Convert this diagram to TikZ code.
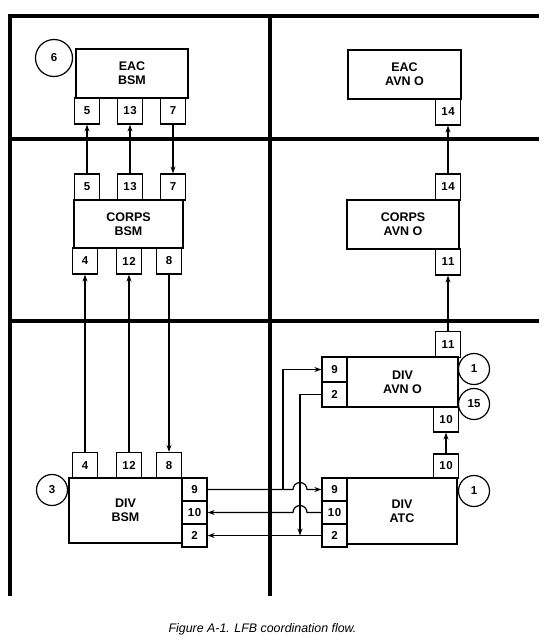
\documentclass[tikz,border=0pt]{standalone}
\usepackage{fontspec}
\setmainfont{Liberation Sans}
\usetikzlibrary{arrows.meta}
\tikzstyle{unit}=[draw, line width=1.2pt, inner sep=0pt, align=center, font=\bfseries\fontsize{12.5}{14}\selectfont]
\tikzstyle{port}=[draw, line width=1.2pt, inner sep=0pt, minimum width=25pt, minimum height=26pt, font=\bfseries\fontsize{11.5}{12}\selectfont\addfontfeature{LetterSpace=6}]
\tikzstyle{sideport}=[port, minimum height=23pt]
\tikzstyle{tag}=[circle, draw, line width=1.2pt, inner sep=0pt, minimum size=31pt, font=\bfseries\fontsize{11.5}{12}\selectfont]
\tikzstyle{grid}=[line width=3.5pt]
\tikzstyle{flow}=[line width=1.2pt, -{Stealth[length=7pt,width=5pt]}]

\begin{document}
\begin{tikzpicture}[x=1pt, y=-1pt]
\useasboundingbox (0,0) rectangle (550,643);

% frame
\draw[grid] (539,16) -- (10,16) -- (10,596);
\draw[grid] (10,139) -- (539,139);
\draw[grid] (10,321) -- (539,321);
\draw[grid] (270,16) -- (270,596);

% bsm side
\node[unit, minimum width=112pt, minimum height=49pt] (eacbsm) at (132,73.5) {EAC\\BSM};
\node[tag, minimum size=37pt] (t6) at (54,58) {6};
\foreach \n/\x in {5/87,13/130,7/173}
\node[port] (eb\n) at (\x,111) {\n};

\node[unit, minimum width=109pt, minimum height=48pt] (corpsbsm) at (128.5,224) {CORPS\\BSM};
\foreach \n/\x in {5/87,13/130,7/173}
\node[port] (cbt\n) at (\x,187) {\n};
\foreach \n/\x in {4/85,12/129,8/169}
\node[port] (cbb\n) at (\x,261) {\n};

\node[unit, minimum width=113pt, minimum height=65pt] (divbsm) at (125.5,510.5) {DIV\\BSM};
\node[tag] (t3) at (52,490) {3};
\foreach \n/\x in {4/85,12/129,8/169}
\node[port] (db\n) at (\x,465.5) {\n};
\foreach \n/\y in {9/489.5,10/512.5,2/535.5}
\node[sideport] (dbr\n) at (194.5,\y) {\n};

% avn side
\node[unit, minimum width=113pt, minimum height=49pt] (eacavn) at (404.5,74.5) {EAC\\AVN O};
\node[port] (ea14) at (448,112) {14};

\node[unit, minimum width=112pt, minimum height=49pt] (corpsavn) at (403,224.5) {CORPS\\AVN O};
\node[port] (ca14) at (448,187) {14};
\node[port] (ca11) at (448,262) {11};

\node[unit, minimum width=111pt, minimum height=50pt] (divavn) at (402.5,382) {DIV\\AVN O};
\node[port] (da11) at (448,344.5) {11};
\node[port, minimum height=25pt] (da10) at (446,419.5) {10};
\node[port, minimum height=25pt] (da9) at (334.5,369.5) {9};
\node[port, minimum height=25pt] (da2) at (334.5,394.5) {2};
\node[tag] (t1a) at (474,369) {1};
\node[tag] (t15) at (474,404) {15};

\node[unit, minimum width=110pt, minimum height=66pt] (divatc) at (402,511) {DIV\\ATC};
\node[port, minimum height=24pt] (dtop10) at (446,466) {10};
\foreach \n/\y in {9/489.5,10/512.5,2/535.5}
\node[sideport] (dt\n) at (334.5,\y) {\n};
\node[tag] (t1b) at (474,491) {1};

% vertical flows
\draw[flow] (cbt5) -- (eb5);
\draw[flow] (cbt13) -- (eb13);
\draw[flow] (eb7) -- (cbt7);
\draw[flow] (db4) -- (cbb4);
\draw[flow] (db12) -- (cbb12);
\draw[flow] (cbb8) -- (db8);
\draw[flow] (ca14) -- (ea14);
\draw[flow] (da11) -- (ca11);
\draw[flow] (dtop10) -- (da10);

% div level flows
\coordinate (jv) at (300,394.5);
\coordinate (jb) at (283,369.5);
\draw[flow] (dbr9.east) -- (293,489.5) arc[start angle=180, end angle=0, radius=7pt] -- (dt9.west);
\draw[flow] (jb |- dbr9.east) -- (jb) -- (da9.west);
\draw[flow] (dt10.west) -- (307,512.5) arc[start angle=0, end angle=180, radius=7pt] -- (dbr10.east);
\draw[flow] (dt2.west) -- (dbr2.east);
\draw[flow] (da2.west) -- (jv) -- (jv |- dt2.west);

\node[font=\itshape\fontsize{12.4}{14}\selectfont] (caption) at (262.5,629) {Figure A-1. LFB coordination flow.};
\end{tikzpicture}
\end{document}
